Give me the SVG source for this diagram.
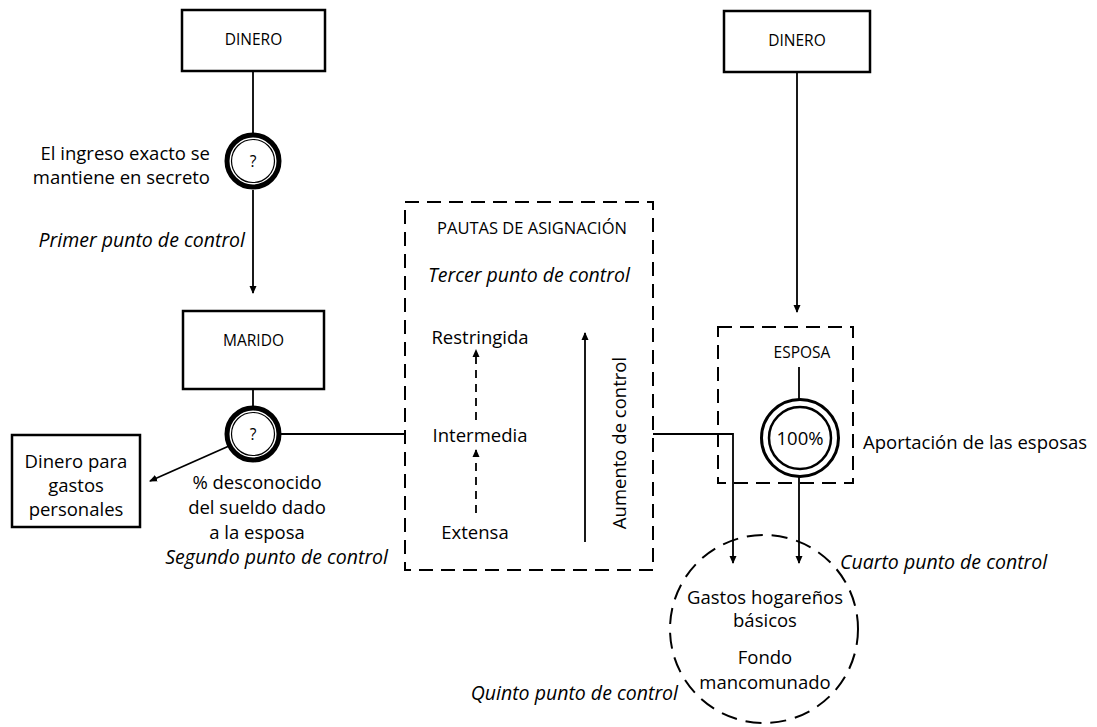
<svg xmlns="http://www.w3.org/2000/svg" width="1097" height="727" viewBox="0 0 1097 727">
<style>
text{font-family:"Open Sans","Noto Sans","Liberation Sans",sans-serif;fill:#000}
.t{font-size:18.5px}
.s{font-size:15.5px}
.i{font-size:19.5px;font-style:italic}
.box{fill:#fff;stroke:#000;stroke-width:2.5}
.dbox{fill:none;stroke:#000;stroke-width:2;stroke-dasharray:14 8}
.ln{fill:none;stroke:#000;stroke-width:1.8}
.dl{fill:none;stroke:#000;stroke-width:1.8;stroke-dasharray:8 6}
</style>
<defs>
<marker id="ah" markerWidth="8" markerHeight="10" refX="7" refY="5" orient="auto" markerUnits="userSpaceOnUse">
<path d="M0,1.5 L8,5 L0,8.5 Z" fill="#000"/>
</marker>
</defs>
<rect width="1097" height="727" fill="#fff"/>
<g id="connectors">
<line class="ln" x1="253" y1="71" x2="253" y2="133"/>
<line class="ln" x1="253" y1="190" x2="253" y2="293" marker-end="url(#ah)"/>
<line class="ln" x1="253" y1="368" x2="253" y2="406"/>
<line class="ln" x1="281" y1="434" x2="405" y2="434"/>
<line class="ln" x1="229" y1="446" x2="150" y2="481" marker-end="url(#ah)"/>
<line class="dl" x1="476" y1="420" x2="476" y2="350" marker-end="url(#ah)"/>
<line class="dl" x1="476" y1="513" x2="476" y2="450" marker-end="url(#ah)"/>
<line class="ln" x1="585" y1="542" x2="585" y2="333" marker-end="url(#ah)"/>
<polyline class="ln" points="653,434 733,434 733,563" marker-end="url(#ah)"/>
<line class="ln" x1="797" y1="72" x2="797" y2="312" marker-end="url(#ah)"/>
<line class="ln" x1="799" y1="367" x2="799" y2="399"/>
<line class="ln" x1="799" y1="477" x2="799" y2="563" marker-end="url(#ah)"/>
</g>
<g id="dinero1">
<rect class="box" x="182" y="10" width="143" height="61"/>
<text class="s" x="253.5" y="45" text-anchor="middle">DINERO</text>
</g>
<g id="control1">
<circle cx="253" cy="161" r="26" fill="#fff" stroke="#000" stroke-width="5"/>
<circle cx="253" cy="161" r="21.5" fill="none" stroke="#000" stroke-width="1.2"/>
<text class="s" x="253" y="167" text-anchor="middle">?</text>
<text class="t" x="210" y="160" text-anchor="end">El ingreso exacto se</text>
<text class="t" x="210" y="184" text-anchor="end">mantiene en secreto</text>
<text class="i" x="245" y="247" text-anchor="end">Primer punto de control</text>
</g>
<g id="marido">
<rect class="box" x="183" y="311" width="141" height="78"/>
<text class="s" x="253.5" y="346" text-anchor="middle">MARIDO</text>
</g>
<g id="control2">
<circle cx="253" cy="434" r="26" fill="#fff" stroke="#000" stroke-width="5"/>
<circle cx="253" cy="434" r="21.5" fill="none" stroke="#000" stroke-width="1.2"/>
<text class="s" x="253" y="440" text-anchor="middle">?</text>
<text class="t" x="257" y="489" text-anchor="middle">% desconocido</text>
<text class="t" x="257" y="514" text-anchor="middle">del sueldo dado</text>
<text class="t" x="257" y="539" text-anchor="middle">a la esposa</text>
<text class="i" x="388" y="564" text-anchor="end">Segundo punto de control</text>
</g>
<g id="personales">
<rect class="box" x="12" y="435" width="128" height="92"/>
<text class="t" x="76" y="468" text-anchor="middle">Dinero para</text>
<text class="t" x="76" y="492" text-anchor="middle">gastos</text>
<text class="t" x="76" y="516" text-anchor="middle">personales</text>
</g>
<g id="pautas">
<rect class="dbox" x="405" y="202" width="248" height="368"/>
<text x="532" y="234" text-anchor="middle" style="font-size:16.5px">PAUTAS DE ASIGNACIÓN</text>
<text class="i" x="529" y="282" text-anchor="middle">Tercer punto de control</text>
<text class="t" x="480" y="344" text-anchor="middle">Restringida</text>
<text class="t" x="480" y="442" text-anchor="middle">Intermedia</text>
<text class="t" x="475" y="539" text-anchor="middle">Extensa</text>
<text class="t" transform="translate(626,443) rotate(-90)" text-anchor="middle">Aumento de control</text>
</g>
<g id="dinero2">
<rect class="box" x="724" y="11" width="146" height="61"/>
<text class="s" x="797" y="46" text-anchor="middle">DINERO</text>
</g>
<g id="esposa">
<rect class="dbox" x="718" y="327" width="135" height="156"/>
<text class="s" x="802" y="358" text-anchor="middle">ESPOSA</text>
<circle cx="800" cy="438" r="38.5" fill="#fff" stroke="#000" stroke-width="3"/>
<circle cx="800" cy="438" r="31" fill="none" stroke="#000" stroke-width="2.5"/>
<text x="800" y="445" text-anchor="middle" style="font-size:18.5px">100%</text>
<text class="t" x="863" y="449">Aportación de las esposas</text>
</g>
<g id="fondo">
<circle cx="764" cy="629" r="94" fill="none" stroke="#000" stroke-width="2" stroke-dasharray="16 9"/>
<text class="t" x="765" y="604" text-anchor="middle">Gastos hogareños</text>
<text class="t" x="765" y="627" text-anchor="middle">básicos</text>
<text class="t" x="765" y="664" text-anchor="middle">Fondo</text>
<text class="t" x="765" y="689" text-anchor="middle">mancomunado</text>
<text class="i" x="840" y="569">Cuarto punto de control</text>
<text class="i" x="678" y="700" text-anchor="end">Quinto punto de control</text>
</g>
</svg>
